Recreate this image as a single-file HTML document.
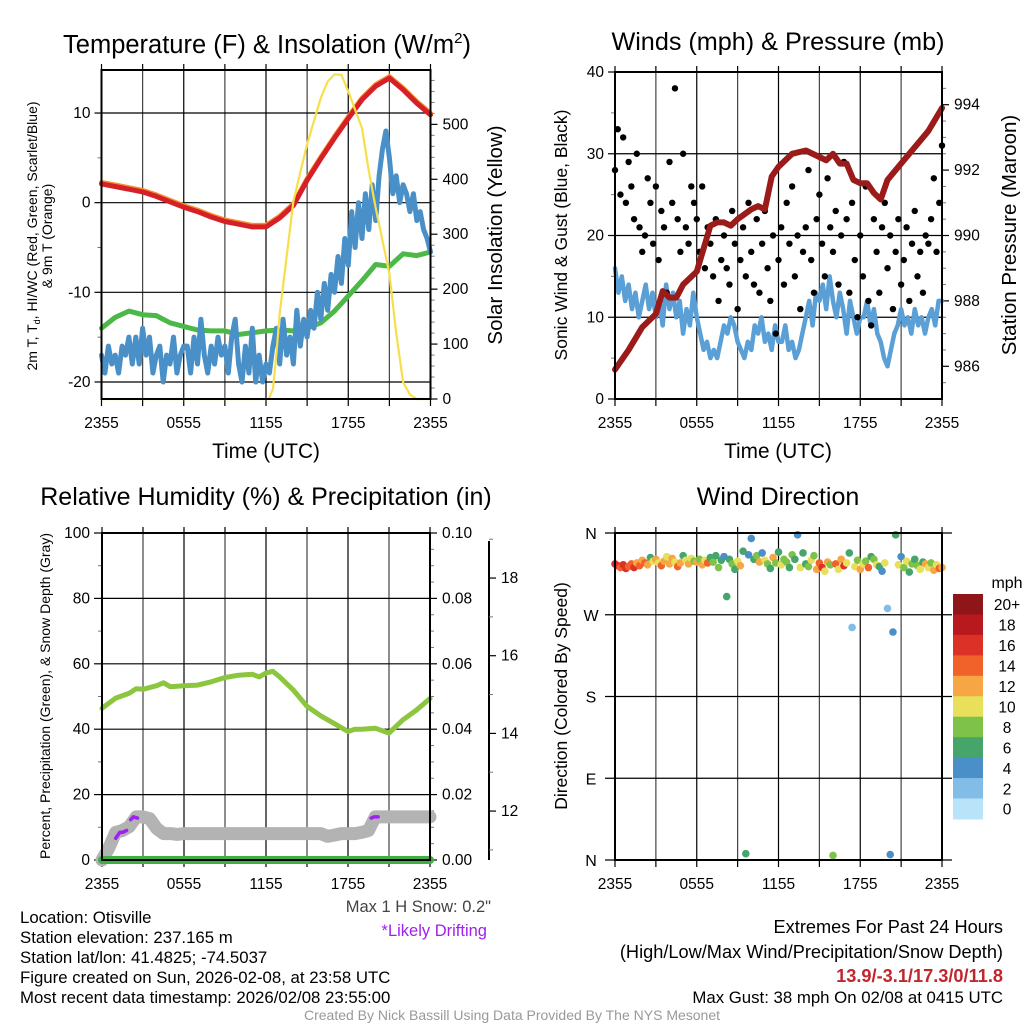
<!DOCTYPE html>
<html><head><meta charset="utf-8"><style>
html,body{margin:0;padding:0;background:#fff}
svg{display:block;font-family:"Liberation Sans",Arial,sans-serif}
</style></head><body>
<svg id="fig" width="1024" height="1024" viewBox="0 0 1024 1024" xmlns="http://www.w3.org/2000/svg">
<g id="static">
<text x="267" y="53" font-size="25.5" text-anchor="middle">Temperature (F) &amp; Insolation (W/m<tspan dy="-10" font-size="15">2</tspan><tspan dy="10">)</tspan></text>
<text x="778" y="50" font-size="25.2" text-anchor="middle">Winds (mph) &amp; Pressure (mb)</text>
<text x="266" y="505" font-size="25" text-anchor="middle">Relative Humidity (%) &amp; Precipitation (in)</text>
<text x="778" y="505" font-size="25" text-anchor="middle">Wind Direction</text>
<text x="266" y="458" font-size="20.8" text-anchor="middle">Time (UTC)</text>
<text x="778" y="458" font-size="20.8" text-anchor="middle">Time (UTC)</text>
<text transform="translate(37,236) rotate(-90)" font-size="14" text-anchor="middle">2m T, T<tspan dy="3" font-size="9">d</tspan><tspan dy="-3">, HI/WC (Red, Green, Scarlet/Blue)</tspan></text>
<text transform="translate(52,236) rotate(-90)" font-size="14" text-anchor="middle">&amp; 9m T (Orange)</text>
<text transform="translate(502,235) rotate(-90)" font-size="20.5" text-anchor="middle">Solar Insolation (Yellow)</text>
<text transform="translate(567,235) rotate(-90)" font-size="17.5" text-anchor="middle">Sonic Wind &amp; Gust (Blue, Black)</text>
<text transform="translate(1016,235) rotate(-90)" font-size="20.5" text-anchor="middle">Station Pressure (Maroon)</text>
<text transform="translate(50,696) rotate(-90)" font-size="14" text-anchor="middle">Percent, Precipitation (Green), &amp; Snow Depth (Gray)</text>
<text transform="translate(567,696) rotate(-90)" font-size="17.5" text-anchor="middle">Direction (Colored By Speed)</text>
<text x="491" y="912" font-size="16.5" text-anchor="end" fill="#444">Max 1 H Snow: 0.2"</text>
<text x="487" y="936" font-size="16.5" text-anchor="end" fill="#a020f0">*Likely Drifting</text>
<g font-size="16.8">
<text x="20" y="923">Location: Otisville</text>
<text x="20" y="943">Station elevation: 237.165 m</text>
<text x="20" y="963">Station lat/lon: 41.4825; -74.5037</text>
<text x="20" y="983">Figure created on Sun, 2026-02-08, at 23:58 UTC</text>
<text x="20" y="1003">Most recent data timestamp: 2026/02/08 23:55:00</text>
</g>
<g font-size="18.2" text-anchor="end">
<text x="1003" y="933">Extremes For Past 24 Hours</text>
<text x="1003" y="958">(High/Low/Max Wind/Precipitation/Snow Depth)</text>
<text x="1003" y="982" font-weight="bold" fill="#c0272d">13.9/-3.1/17.3/0/11.8</text>
<text x="1003" y="1003" font-size="16.8">Max Gust: 38 mph On 02/08 at 0415 UTC</text>
</g>
<text x="512" y="1020" font-size="14" text-anchor="middle" fill="#999">Created By Nick Bassill Using Data Provided By The NYS Mesonet</text>
<text x="1007" y="588" font-size="16" text-anchor="middle">mph</text>
</g>
</svg>
<script>
// ---------- data ----------
const xTickLabels = ["2355","0555","1155","1755","2355"];
const tempTicks = [-20,-10,0,10];
const solarTicks = [0,100,200,300,400,500];
const windTicks = [0,10,20,30,40];
const presTicks = [986,988,990,992,994];
const rhTicks = [0,20,40,60,80,100];
const precipTicks = ["0.00","0.02","0.04","0.06","0.08","0.10"];
const snowTicks = [12,14,16,18];
const dirLabels = ["N","E","S","W","N"];
const speedBins = ["0","2","4","6","8","10","12","14","16","18","20+"];

const tempVals = [2.1,1.8,1.5,1.2,0.7,0.1,-0.5,-1.0,-1.6,-2.1,-2.4,-2.7,-2.7,-1.7,-0.3,2.5,4.9,7.2,9.4,11.5,13.0,13.9,12.6,11.1,9.8];
const dewVals = [-14.0,-12.8,-12.1,-12.5,-12.6,-13.4,-13.8,-14.2,-14.3,-14.3,-14.7,-14.5,-14.3,-14.2,-14.3,-14.0,-13.4,-12.1,-10.4,-8.7,-6.9,-7.1,-5.7,-5.9,-5.5];
const chillVals = [-17,-19,-16,-18,-17,-19,-16,-17,-15,-18,-15,-18,-14,
 -17,-15,-19,-17,-16,-20,-17,-18,-15,-19,-17,-16,
 -16,-19,-15,-18,-13,-17,-19,-16,-18,-15,-17,-16,
 -19,-15,-13,-18,-20,-16,-19,-14,-20,-17,-20,-18,
 -19,-16,-14,-18,-13,-17,-15,-18,-12,-16,-13,-15,
 -12,-14,-10,-13,-9,-12,-8,-10,-6,-9,-4,-7,
 -1,-5,0,-4,1,-3,2,-2,3,6,8,5,
 1,3,0,2,1,-1,1,-2,-1,-3,-4,-5.5];
const solarHours = [0,12.2,12.5,12.75,13,14,15,16,16.5,17,17.5,18,19,19.5,20,21,21.5,22,22.5,23,24];
const solarVals = [0,0,18,80,156,360,464,548,578,591,590,560,493,415,348,228,120,31,8,0,0];

const windVals = [16,13,15,12,14,11,13,10,12,14,11,13,10,
 12,9,14,11,13,10,12,8,11,9,13,10,
 8,6,7,5,6,5,7,9,8,10,9,7,
 6,5,7,6,9,8,10,7,8,6,9,7,
 7,9,6,7,5,6,8,10,12,9,13,12,
 14,11,15,12,10,13,11,8,12,10,8,10,
 10,12,9,11,8,7,5,4,6,8,9,11,
 9,10,8,11,9,10,8,10,11,9,12,12];
const gustVals = [28,33,25,32,24, 29,26,22,30,21, 18,20,27,24,19, 26,17,23,21,13,
 29,24,38,22,18, 30,21,19,26,24, 22,18,26,16,21, 19,15,22,12,17,
 20,16,14,23,19, 11,17,21,15,24, 18,14,22,13,19, 23,16,12,20,8,
 17,21,14,24,19, 26,15,20,11,18, 21,28,17,13,22, 25,19,15,27,21,
 18,23,14,20,29, 22,13,24,17,10, 20,15,26,12,9, 22,18,13,21,24,
 16,20,11,18,22, 14,17,21,12,19, 23,15,18,13,20, 19,22,27,18,24, 31];
const presHours = [0,1,2,3,3.5,4,4.5,5,6,7,7.5,8,8.5,9,10,10.5,11,11.5,12,13,14,15,15.5,16,16.5,17,17.5,18,18.5,19,19.5,20,21,22,23,24];
const presVals = [985.9,986.5,987.2,987.6,988.3,988.1,988.1,988.5,988.9,990.3,990.4,990.4,990.3,990.5,990.8,990.9,990.8,991.8,992.1,992.5,992.6,992.4,992.3,992.5,992.2,992.2,991.7,991.6,991.6,991.3,991.1,991.7,992.2,992.7,993.2,993.9];

const rhHours = [0,1,2,2.5,3,4,4.5,5,6,7,8,9,10,11,11.5,12,12.5,13,14,15,16,17,18,18.5,19,20,21,22,23,24];
const rhVals = [46.4,49.5,51,52.4,52.2,53.3,54.2,53,53.3,53.5,54.5,55.8,56.5,56.8,56,57.2,57.7,56,52,47,44.1,41.7,39.3,40,40,40.3,38.8,42.8,45.8,49.4];
const snowVals = [10.74,11.05,11.45,11.5,11.6,11.85,11.85,11.8,11.55,11.42,11.42,
 11.4,11.42,11.42,11.42,11.42,11.42,11.42,11.42,11.42,11.42,11.42,
 11.42,11.42,11.42,11.42,11.42,11.42,11.42,11.42,11.42,11.42,11.42,
 11.35,11.38,11.42,11.42,11.42,11.45,11.5,
 11.85,11.85,11.85,11.85,11.85,11.85,11.85,11.85,11.85];
const precipVals = [0,0,0,0,0,0,0,0,0,0,0,0,0,0,0,0,0,0,0,0,0,0,0,0,0];
const driftHours = [[1.0,1.3,1.5,1.8],[2.1,2.3,2.6],[19.7,19.9,20.2]];
const driftVals = [[11.3,11.45,11.45,11.5],[11.78,11.85,11.82],[11.82,11.85,11.85]];

const dirVals = [326,324,322,325,321, 323,326,322,327,324, 330,327,325,333,329, 331,327,324,329,334,
 326,332,328,323,327, 335,330,326,332,329, 328,331,325,330,327, 333,328,335,322,330,
 334,290,331,326,320, 329,324,340,7,336, 354,331,335,328,338, 330,326,321,333,327,
 339,325,331,328,322, 336,331,358,322,338, 326,323,330,335,320, 327,322,318,328,325,
 5,326,320,331,324, 327,338,256,323,330, 320,326,329,322,334, 331,325,323,318,327,
 277,6,251,358,325, 334,322,329,317,326, 331,324,320,328,326, 322,327,319,325,321, 322];
const speedVals = [16,17,15,16,17, 15,14,16,13,14, 12,14,13,6,11, 12,10,14,12,11,
 13,12,10,14,12, 6,10,12,11,9, 13,8,12,10,14, 6,8,7,8,6,
 4,6,6,8,6, 10,12,6,6,4, 4,6,8,12,4, 10,8,6,12,8,
 6,10,8,8,6, 8,6,4,10,6, 6,8,10,8,12, 14,16,10,12,8,
 8,14,10,12,16, 10,6,3,10,8, 12,10,8,14,6, 8,10,6,4,10,
 2,4,4,6,10, 4,8,10,6,8, 6,8,10,6,12, 10,8,12,10,14, 12];
const binColors = ["#b9e3f8","#81bde6","#4a8fc7","#45a56a","#7fc24a","#e8e05a","#f7a644","#f1622a","#dc3127","#b8191e","#8e1518"];

// ---------- helpers ----------
const NS="http://www.w3.org/2000/svg";
const svg=document.getElementById('fig');
function mk(tag,attrs,parent){const e=document.createElementNS(NS,tag);for(const k in attrs)e.setAttribute(k,attrs[k]);(parent||svg).appendChild(e);return e;}
function lin(d0,d1,r0,r1){return v=>r0+(v-d0)*(r1-r0)/(d1-d0);}
function pathFrom(xs,ys){return xs.map((x,i)=>(i?'L':'M')+x.toFixed(1)+','+ys[i].toFixed(1)).join('');}

function frame(name,L,R,T,B,xs){
  const g=mk('g',{});
  
  
  for(let h=0;h<=24;h+=3){
    const x=xs(h);
    const l=mk('line',{x1:x,x2:x,y1:T,y2:B,stroke:(h%6===0?'#000':'#444'),'stroke-width':1.2},g);
    
    
    mk('line',{x1:x,x2:x,y1:B,y2:B+7,stroke:'#000','stroke-width':1.2},g);
    mk('line',{x1:x,x2:x,y1:T,y2:T-6,stroke:'#000','stroke-width':1.2},g);
  }
  xTickLabels.forEach((t,i)=>{
    const tx=mk('text',{x:xs(i*6),y:B+29,'font-size':15.5,'text-anchor':'middle'},g);
    tx.textContent=t;
    
    
  });
  return g;
}
function hgrid(g,L,R,y){mk('line',{x1:L,x2:R,y1:y,y2:y,stroke:'#000','stroke-width':1.2},g);}
function yTick(g,x,y,label,side,len){
  const dx=side==='left'?-len:len;
  mk('line',{x1:x,x2:x+dx,y1:y,y2:y,stroke:'#000','stroke-width':1.2},g);
  const t=mk('text',{x:side==='left'?x-len-4:x+len+5,y:y+5,'font-size':15.5,'text-anchor':side==='left'?'end':'start'},g);
  t.textContent=label;
  
  
}
function minorTicks(g,x,ys,side){ys.forEach(y=>mk('line',{x1:x,x2:side==='left'?x-4:x+4,y1:y,y2:y,stroke:'#777','stroke-width':1},g));}

// ---------- panel 1: temperature ----------
(function(){
  const L=101.5,R=430.5,T=70,B=399;
  const xs=lin(0,24,L,R), yT=lin(-21.9,14.8,B,T), yS=lin(0,599,B,T);
  const g=frame('temperature',L,R,T,B,xs);
  tempTicks.forEach(v=>{hgrid(g,L,R,yT(v));yTick(g,L,yT(v),v,'left',7);});
  minorTicks(g,L,[-15,-5,5].map(yT),'left');
  solarTicks.forEach(v=>yTick(g,R,yS(v),v,'right',7));
  const mins=[];for(let v=20;v<=580;v+=20)if(v%100)mins.push(yS(v));minorTicks(g,R,mins,'right');
  const hH=tempVals.map((_,i)=>xs(i));
  const dew=mk('path',{d:pathFrom(hH,dewVals.map(yT)),fill:'none',stroke:'#4cb848','stroke-width':5,'stroke-linejoin':'round','stroke-linecap':'round'});
  
  
  const chill=mk('path',{d:pathFrom(chillVals.map((_,i)=>xs(i*0.25)),chillVals.map(yT)),fill:'none',stroke:'#4a90c8','stroke-width':5,'stroke-linejoin':'round','stroke-linecap':'round'});
  
  
  const t9=mk('path',{d:pathFrom(hH,tempVals.map(v=>yT(v)-1.5)),fill:'none',stroke:'#f5902e','stroke-width':5,'stroke-linejoin':'round','stroke-linecap':'round'});
  
  
  const t2=mk('path',{d:pathFrom(hH,tempVals.map(yT)),fill:'none',stroke:'#d62027','stroke-width':5,'stroke-linejoin':'round','stroke-linecap':'round'});
  
  
  const sol=mk('path',{d:pathFrom(solarHours.map(xs),solarVals.map(yS)),fill:'none',stroke:'#f8df4a','stroke-width':2.2,'stroke-linejoin':'round'});
  
  
  const bx=mk('rect',{x:L,y:T,width:R-L,height:B-T,fill:'none',stroke:'#000','stroke-width':2});
  
  
})();

// ---------- panel 2: winds ----------
(function(){
  const L=615,R=942,T=72,B=399;
  const xs=lin(0,24,L,R), yW=lin(0,40,B,T), yP=lin(985,995,B,T);
  const g=frame('winds',L,R,T,B,xs);
  windTicks.forEach(v=>{if(v>0&&v<40)hgrid(g,L,R,yW(v));yTick(g,L,yW(v),v,'left',7);});
  minorTicks(g,L,[5,15,25,35].map(yW),'left');
  presTicks.forEach(v=>yTick(g,R,yP(v),v,'right',7));
  minorTicks(g,R,[985.5,986.5,987,987.5,988.5,989,989.5,990.5,991,991.5,992.5,993,993.5,994.5].map(yP),'right');
  const w=mk('path',{d:pathFrom(windVals.map((_,i)=>xs(i*0.25)),windVals.map(yW)),fill:'none',stroke:'#5a9fd6','stroke-width':4.5,'stroke-linejoin':'round','stroke-linecap':'round'});
  
  
  gustVals.forEach((v,i)=>{
    const c=mk('circle',{cx:xs(i*0.2),cy:yW(v),r:3.2,fill:'#000'});
    
    
  });
  const p=mk('path',{d:pathFrom(presHours.map(xs),presVals.map(yP)),fill:'none',stroke:'#9b1b1b','stroke-width':6,'stroke-linejoin':'round','stroke-linecap':'round'});
  
  
  const bx=mk('rect',{x:L,y:T,width:R-L,height:B-T,fill:'none',stroke:'#000','stroke-width':2});
  
  
})();

// ---------- panel 3: humidity ----------
(function(){
  const L=102,R=430,T=533,B=860;
  const xs=lin(0,24,L,R), yR=lin(0,100,B,T), yN=lin(10.74,19.16,B,T);
  const g=frame('humidity',L,R,T,B,xs);
  rhTicks.forEach((v,i)=>{if(v>0&&v<100)hgrid(g,L,R,yR(v));yTick(g,L,yR(v),v,'left',8);});
  minorTicks(g,L,[10,30,50,70,90].map(yR),'left');
  precipTicks.forEach((v,i)=>yTick(g,R,yR(i*20),v,'right',7));
  minorTicks(g,R,[5,10,15,25,30,35,45,50,55,65,70,75,85,90,95].map(yR),'right');
  const ax=489;
  mk('line',{x1:ax,x2:ax,y1:T+8,y2:B,stroke:'#000','stroke-width':2},g);
  snowTicks.forEach(v=>yTick(g,ax,yN(v),v,'right',7));
  minorTicks(g,ax,[11,13,15,17,19].map(yN),'right');
  const rh=mk('path',{d:pathFrom(rhHours.map(xs),rhVals.map(yR)),fill:'none',stroke:'#8cc63f','stroke-width':5,'stroke-linejoin':'round','stroke-linecap':'round'});
  
  
  const sn=mk('path',{d:pathFrom(snowVals.map((_,i)=>xs(i*0.5)),snowVals.map(yN)),fill:'none',stroke:'#b3b3b3','stroke-width':13,'stroke-linejoin':'round','stroke-linecap':'round'});
  
  
  driftHours.forEach((hs,k)=>{
    const d=mk('path',{d:pathFrom(hs.map(xs),driftVals[k].map(yN)),fill:'none',stroke:'#a020f0','stroke-width':3.5,'stroke-linecap':'round'});
    
    
  });
  const pr=mk('path',{d:pathFrom(precipVals.map((_,i)=>xs(i)),precipVals.map(v=>yR(v*1000))),fill:'none',stroke:'#3fae45','stroke-width':8,'stroke-linecap':'round'});
  
  
  const bx=mk('rect',{x:L,y:T,width:R-L,height:B-T,fill:'none',stroke:'#000','stroke-width':2});
  
  
})();

// ---------- panel 4: wind direction ----------
(function(){
  const L=615,R=942,T=533,B=860;
  const xs=lin(0,24,L,R), yD=lin(0,360,B,T);
  const g=frame('direction',L,R,T,B,xs);
  dirLabels.forEach((s,i)=>{
    const y=yD(i*90);
    hgrid(g,L-10,R+10,y);
    const t=mk('text',{x:591,y:y+6,'font-size':16,'text-anchor':'middle'},g);
    t.textContent=s;
    
    
  });
  dirVals.forEach((d,i)=>{
    const b=Math.min(10,Math.max(0,Math.floor(speedVals[i]/2)));
    const c=mk('circle',{cx:xs(i*0.2),cy:yD(d),r:3.8,fill:binColors[b]});
    
    
  });
  const bx=mk('rect',{x:L,y:T,width:R-L,height:B-T,fill:'none',stroke:'#000','stroke-width':2});
  
  
  // colorbar
  const cb=mk('g',{});
  
  
  const h=20.45;
  speedBins.forEach((lab,i)=>{
    const k=10-i;
    const y=594+i*h;
    const r=mk('rect',{x:953,y:y,width:30,height:h+0.5,fill:binColors[k]},cb);
    
    
    const t=mk('text',{x:1007,y:y+h/2+6,'font-size':15.5,'text-anchor':'middle'},cb);
    t.textContent=speedBins[k];
    
    
  });
})();
</script>
</body></html>
